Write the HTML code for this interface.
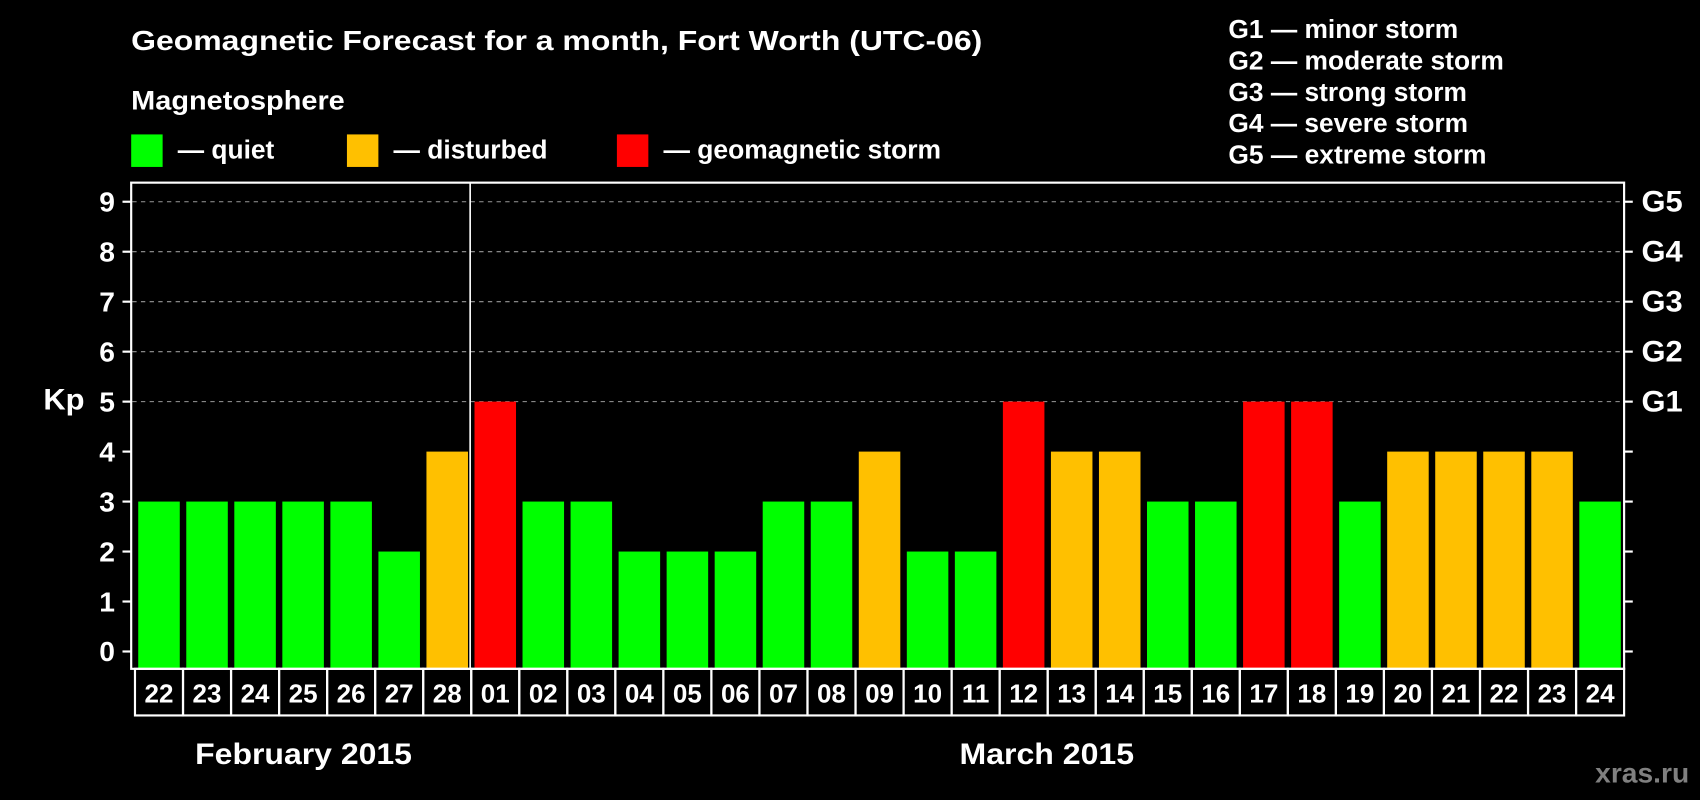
<!DOCTYPE html>
<html><head><meta charset="utf-8"><style>
html,body{margin:0;padding:0;background:#000;width:1700px;height:800px;overflow:hidden}
svg{display:block}
text{font-family:"Liberation Sans",Arial,sans-serif;font-weight:bold;fill:#fff}
</style></head><body>
<svg id="c" width="1700" height="800" viewBox="0 0 1568 738" preserveAspectRatio="none">
<text x="121" y="46" font-size="26" textLength="785" lengthAdjust="spacingAndGlyphs">Geomagnetic Forecast for a month, Fort Worth (UTC-06)</text>
<text x="121" y="101" font-size="25" textLength="197" lengthAdjust="spacingAndGlyphs">Magnetosphere</text>
<rect x="121" y="124" width="29" height="30" fill="#00ff00"/>
<text x="164" y="146" font-size="24" textLength="89" lengthAdjust="spacingAndGlyphs">— quiet</text>
<rect x="320" y="124" width="29" height="30" fill="#ffc000"/>
<text x="363" y="146" font-size="24" textLength="142" lengthAdjust="spacingAndGlyphs">— disturbed</text>
<rect x="569" y="124" width="29" height="30" fill="#ff0000"/>
<text x="612" y="146" font-size="24" textLength="256" lengthAdjust="spacingAndGlyphs">— geomagnetic storm</text>
<g font-size="24">
<text x="1133" y="35" textLength="212" lengthAdjust="spacingAndGlyphs">G1 — minor storm</text>
<text x="1133" y="64" textLength="254" lengthAdjust="spacingAndGlyphs">G2 — moderate storm</text>
<text x="1133" y="93" textLength="220" lengthAdjust="spacingAndGlyphs">G3 — strong storm</text>
<text x="1133" y="122" textLength="221" lengthAdjust="spacingAndGlyphs">G4 — severe storm</text>
<text x="1133" y="151" textLength="238" lengthAdjust="spacingAndGlyphs">G5 — extreme storm</text>
</g>
<text x="40" y="378" font-size="27" textLength="38" lengthAdjust="spacingAndGlyphs">Kp</text>
<g id="plot"></g>
<rect x="121" y="168.5" width="1377" height="448.5" fill="none" stroke="#fff" stroke-width="2"/>
<text x="180" y="705" font-size="27" textLength="200" lengthAdjust="spacingAndGlyphs">February 2015</text>
<text x="885" y="705" font-size="27" textLength="161" lengthAdjust="spacingAndGlyphs">March 2015</text>
<text x="1558" y="722" font-size="26" text-anchor="end" style="fill:#808080">xras.ru</text>
</svg>
<script>
const days = ["22","23","24","25","26","27","28","01","02","03","04","05","06","07","08","09","10","11","12","13","14","15","16","17","18","19","20","21","22","23","24"];
const kpValues = [3,3,3,3,3,2,4,5,3,3,2,2,2,3,3,4,2,2,5,4,4,3,3,5,5,3,4,4,4,4,3];
const yTicks = [0,1,2,3,4,5,6,7,8,9];
const gLabels = ["G1","G2","G3","G4","G5"];
const monthSplitIndex = 7;

const NS = "http://www.w3.org/2000/svg";
const g = document.getElementById('plot');
const x0 = 124.5, pitch = (1498 - 124.5) / days.length;
const y = v => 601 - v * 46.1;
const xCell = i => x0 + i * pitch;
const bottom = 617;
function mk(tag, attrs){const e=document.createElementNS(NS,tag);for(const k in attrs)e.setAttribute(k,attrs[k]);g.appendChild(e);return e;}
function color(v){return v>=5?"#ff0000":v>=4?"#ffc000":"#00ff00";}

yTicks.forEach(t=>{
  if(t>=5){const l=mk('line',{x1:122,x2:1497,y1:y(t),y2:y(t),stroke:'#999','stroke-dasharray':'4,4','stroke-width':1});
  
  }
  const tl=mk('line',{x1:113,x2:121,y1:y(t),y2:y(t),stroke:'#fff','stroke-width':2});
  
  
  const tr=mk('line',{x1:1498,x2:1506,y1:y(t),y2:y(t),stroke:'#fff','stroke-width':2});
  
  
  const tx=mk('text',{x:106,y:y(t)+9,'font-size':26,'text-anchor':'end'});
  tx.textContent=t;
  
  
});
gLabels.forEach((lab,i)=>{
  const tx=mk('text',{x:1514,y:y(5+i)+9,'font-size':27,textLength:38,lengthAdjust:'spacingAndGlyphs'});
  tx.textContent=lab;
  
  
});
kpValues.forEach((v,i)=>{
  const r=mk('rect',{x:xCell(i)+3,y:y(v),width:pitch-6,height:bottom-y(v),fill:color(v)});
  
  
});
const sep=mk('line',{x1:xCell(monthSplitIndex)-1,x2:xCell(monthSplitIndex)-1,y1:169,y2:617,stroke:'#fff','stroke-width':1.5});


days.forEach((d,i)=>{
  const c=mk('rect',{x:xCell(i),y:617,width:pitch,height:43,fill:'none',stroke:'#fff','stroke-width':2});
  
  
  const t=mk('text',{x:xCell(i)+pitch/2,y:648,'font-size':24,'text-anchor':'middle'});
  t.textContent=d;
  
  
});
</script>
</body></html>
